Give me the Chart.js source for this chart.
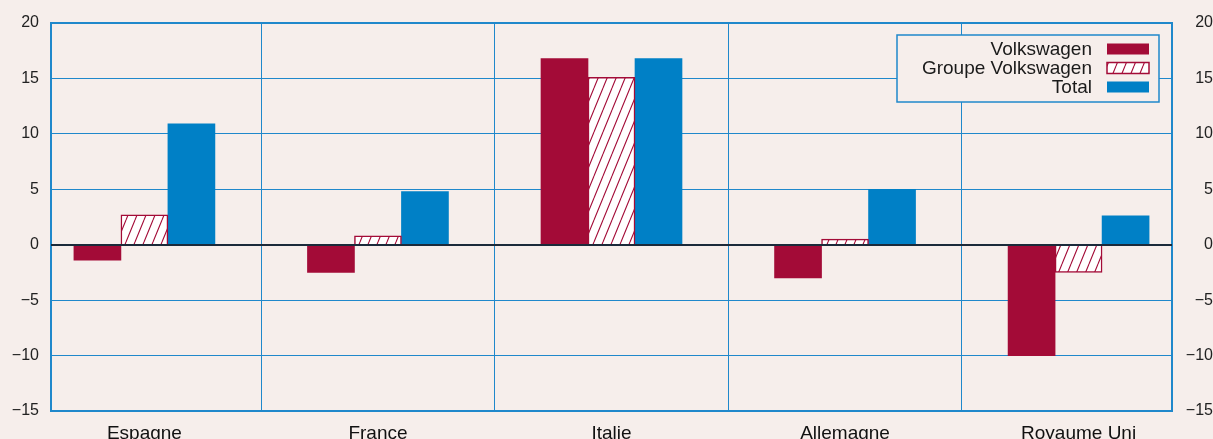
<!DOCTYPE html>
<html>
<head>
    <title>Volkswagen</title>
    <script src="https://cdn.jsdelivr.net/npm/chart.js"></script>
    <style>
        html, body { margin: 0; padding: 0; background: #f6eeeb; overflow: hidden; }
    </style>
</head>
<body>
    <canvas id="myChart" width="1213" height="439"></canvas>

    <script>
        // Donnees
        const pays = ['Espagne', 'France', 'Italie', 'Allemagne', 'Royaume Uni'];
        const volkswagen = [-1.4, -2.5, 16.8, -3.0, -10.0];
        const groupeVW = [2.7, 0.8, 15.1, 0.5, -2.5];
        const total = [10.9, 4.8, 16.8, 5.0, 2.6];
        const yTicks = [20, 15, 10, 5, 0, -5, -10, -15];

        const rouge = '#a30b37';
        const bleu = '#0080c6';
        const bleuGrille = '#1f88cb';
        const fond = '#f6eeeb';

        const ctx = document.getElementById('myChart').getContext('2d');

        // motif hachure pour "Groupe Volkswagen"
        function hachures() {
            const c = document.createElement('canvas');
            c.width = 9; c.height = 22;
            const g = c.getContext('2d');
            g.fillStyle = '#ffffff';
            g.fillRect(0, 0, 9, 22);
            g.strokeStyle = rouge;
            g.lineWidth = 1.1;
            g.beginPath();
            for (const dx of [-9, 0, 9]) { g.moveTo(dx, 22); g.lineTo(dx + 9, 0); }
            g.stroke();
            return ctx.createPattern(c, 'repeat');
        }
        const motif = hachures();

        const fmt = v => v < 0 ? '\u2212' + Math.abs(v) : String(v);

        const fondPlugin = {
            id: 'fond',
            beforeDraw(chart) {
                const c = chart.ctx;
                c.save();
                c.fillStyle = fond;
                c.fillRect(0, 0, chart.width, chart.height);
                c.restore();
            }
        };

        // ligne du zero par dessus les barres
        const ligneZero = {
            id: 'ligneZero',
            afterDatasetsDraw(chart) {
                const c = chart.ctx, a = chart.chartArea;
                const y0 = Math.round(chart.scales.y.getPixelForValue(0));
                c.save();
                c.strokeStyle = '#1b2a3a';
                c.lineWidth = 2;
                c.beginPath();
                c.moveTo(a.left, y0);
                c.lineTo(a.right, y0);
                c.stroke();
                c.restore();
            }
        };

        const legende = {
            id: 'legende',
            afterDraw(chart) {
                const c = chart.ctx, a = chart.chartArea;
                const right = a.right - 13, top = a.top + 12;
                const w = 262, h = 67;
                c.save();
                c.fillStyle = fond;
                c.fillRect(right - w, top, w, h);
                c.strokeStyle = bleuGrille;
                c.lineWidth = 1.5;
                c.strokeRect(right - w, top, w, h);
                c.font = '19px "Liberation Sans", Arial, sans-serif';
                c.textAlign = 'right';
                c.textBaseline = 'middle';
                chart.data.datasets.forEach((ds, i) => {
                    const yc = top + 14 + i * 19;
                    c.fillStyle = '#1a1a1a';
                    c.fillText(ds.label, right - 67, yc + 1);
                    c.fillStyle = ds.backgroundColor;
                    c.fillRect(right - 52, yc - 5.5, 42, 11);
                    if (ds.borderWidth) {
                        c.strokeStyle = ds.borderColor;
                        c.lineWidth = 1.5;
                        c.strokeRect(right - 52, yc - 5.5, 42, 11);
                    }
                });
                c.restore();
            }
        };

        const axeY = (position) => ({
            type: 'linear',
            position: position,
            min: -15,
            max: 20,
            afterBuildTicks: s => { s.ticks = yTicks.map(v => ({ value: v })); },
            ticks: {
                padding: 12,
                color: '#222',
                font: { size: 16, family: '"Liberation Sans", Arial, sans-serif' },
                crossAlign: position === 'right' ? 'far' : 'near',
                callback: v => fmt(v)
            },
            grid: {
                display: position === 'left',
                drawTicks: false,
                color: bleuGrille,
                lineWidth: c => (c.tick && (c.tick.value === 20 || c.tick.value === -15)) ? 2 : 1
            },
            border: { display: true, color: bleuGrille, width: 2 },
            afterFit: s => { s.width = position === 'left' ? 51 : 41; }
        });

        new Chart(ctx, {
            type: 'bar',
            data: {
                datasets: [{
                    label: 'Volkswagen',
                    data: volkswagen.map((v, i) => ({ x: i, y: v })),
                    backgroundColor: rouge,
                    borderWidth: 0
                }, {
                    label: 'Groupe Volkswagen',
                    data: groupeVW.map((v, i) => ({ x: i, y: v })),
                    backgroundColor: motif,
                    borderColor: rouge,
                    borderWidth: 1.5
                }, {
                    label: 'Total',
                    data: total.map((v, i) => ({ x: i, y: v })),
                    backgroundColor: bleu,
                    borderWidth: 0
                }]
            },
            options: {
                responsive: false,
                animation: false,
                barThickness: 47,
                layout: { padding: { top: 23, left: 0, right: 0, bottom: 0 } },
                plugins: {
                    legend: { display: false },
                    tooltip: { enabled: false }
                },
                scales: {
                    x: {
                        type: 'linear',
                        offset: false,
                        min: -0.4,
                        max: pays.length - 0.6,
                        afterBuildTicks: s => {
                            s.ticks = pays.flatMap((p, i) => i ? [i - 0.5, i] : [i]).map(v => ({ value: v }));
                        },
                        ticks: {
                            autoSkip: false,
                            maxRotation: 0,
                            padding: 11,
                            color: '#111',
                            font: { size: 19, family: '"Liberation Sans", Arial, sans-serif' },
                            callback: v => Number.isInteger(v) ? pays[v] : ''
                        },
                        grid: {
                            offset: false,
                            drawTicks: false,
                            color: c => (c.tick && Number.isInteger(c.tick.value)) ? 'rgba(0,0,0,0)' : bleuGrille,
                            lineWidth: 1
                        },
                        border: { display: false },
                        afterFit: s => { s.height = 28; }
                    },
                    y: axeY('left'),
                    y2: axeY('right')
                }
            },
            plugins: [fondPlugin, ligneZero, legende]
        });
    </script>
</body>
</html>
